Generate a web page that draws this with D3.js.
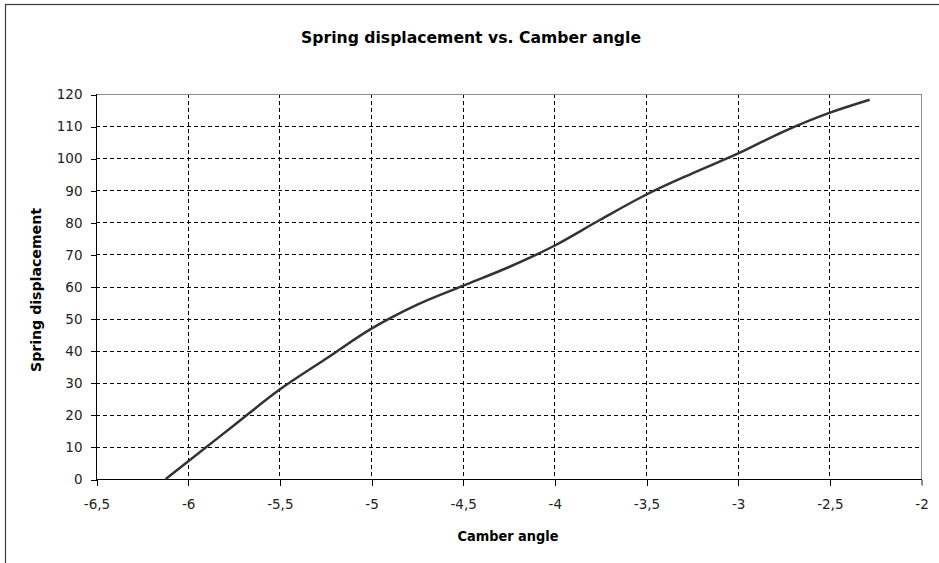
<!DOCTYPE html>
<html>
<head>
<meta charset="utf-8">
<script src="https://cdn.jsdelivr.net/npm/d3@7"></script>
<style>
  html, body { margin: 0; padding: 0; background: #fff; }
  svg { display: block; }
</style>
</head>
<body>
<svg id="chart" width="939" height="563"></svg>
<script>
// Camber angle (deg) vs spring displacement (mm)
const camber = [-6.12, -6.0, -5.75, -5.5, -5.25, -5.0, -4.75, -4.5, -4.25, -4.0, -3.75, -3.5, -3.25, -3.0, -2.75, -2.5, -2.28];
const springDisp = [0, 5.4, 16.6, 27.8, 37.3, 46.8, 54.3, 60.2, 66.0, 72.7, 80.8, 88.6, 95.2, 101.4, 108.3, 114.1, 118.2];

const xTicks = [-6.5, -6, -5.5, -5, -4.5, -4, -3.5, -3, -2.5, -2];
const yTicks = [0, 10, 20, 30, 40, 50, 60, 70, 80, 90, 100, 110, 120];

const titleText = "Spring displacement vs. Camber angle";
const xTitle = "Camber angle";
const yTitle = "Spring displacement";

(function () {
  const svg = d3.select("#chart");
  const pLeft = 96, pRight = 921, pTop = 94, pBottom = 479;

  const x = d3.scaleLinear().domain([-6.5, -2]).range([pLeft, pRight]);
  const y = d3.scaleLinear().domain([0, 120]).range([pBottom, pTop]);
  const px = v => Math.round(v) + 0.5;
  const fmt = v => String(v).replace(".", ",");

  // outer chart frame
  svg.append("rect")
    .attr("x", 5.5).attr("y", 4.5)
    .attr("width", 1200).attr("height", 1200)
    .attr("fill", "none").attr("stroke", "#3a3a3a").attr("stroke-width", 1.2);

  // title
  svg.append("text")
    .attr("x", 471).attr("y", 43)
    .attr("text-anchor", "middle")
    .attr("font-family", "DejaVu Sans, Verdana, sans-serif")
    .attr("font-weight", "bold")
    .attr("font-size", 15)
    .attr("textLength", 340).attr("lengthAdjust", "spacingAndGlyphs")
    .attr("fill", "#000")
    .text(titleText);

  // grid
  const grid = svg.append("g").attr("stroke", "#000").attr("stroke-width", 1)
    .attr("stroke-dasharray", "4,3").attr("shape-rendering", "crispEdges");
  grid.selectAll("line.v").data(xTicks.filter(d => d > -6.5 && d < -2)).enter()
    .append("line").attr("class", "v")
    .attr("x1", d => px(x(d))).attr("x2", d => px(x(d)))
    .attr("y1", pTop).attr("y2", pBottom);
  grid.selectAll("line.h").data(yTicks.filter(d => d > 0 && d < 120)).enter()
    .append("line").attr("class", "h")
    .attr("x1", pLeft).attr("x2", pRight)
    .attr("y1", d => px(y(d))).attr("y2", d => px(y(d)));

  // plot border (top/right grey)
  const border = svg.append("g").attr("stroke", "#8c8c8c").attr("stroke-width", 1).attr("shape-rendering", "crispEdges");
  border.append("line").attr("x1", pLeft).attr("x2", px(pRight)).attr("y1", px(pTop)).attr("y2", px(pTop));
  border.append("line").attr("x1", px(pRight)).attr("x2", px(pRight)).attr("y1", px(pTop)).attr("y2", pBottom + 6);

  // axes
  const axisFont = "DejaVu Sans, Verdana, sans-serif";
  const xAxis = svg.append("g")
    .attr("transform", `translate(0.5,${px(pBottom)})`)
    .call(d3.axisBottom(x).tickValues(xTicks).tickFormat(fmt).tickSize(6).tickPadding(14));
  const yAxis = svg.append("g")
    .attr("transform", `translate(${px(pLeft)},0.5)`)
    .call(d3.axisLeft(y).tickValues(yTicks).tickFormat(d => d).tickSize(6).tickPadding(8));
  [xAxis, yAxis].forEach(g => {
    g.select(".domain").attr("stroke", "#000").attr("shape-rendering", "crispEdges");
    g.selectAll(".tick line").attr("stroke", "#000").attr("shape-rendering", "crispEdges");
    g.selectAll("text").attr("font-family", axisFont).attr("font-size", 13.5).attr("fill", "#222");
  });
  xAxis.select(".domain").attr("d", `M${pLeft - 0.5},0H${pRight}`);
  yAxis.select(".domain").attr("d", `M0,${pBottom}V${pTop - 0.5}`);
  xAxis.selectAll(".tick").filter(d => d === -2).select("line").attr("stroke", "#8c8c8c");

  // axis titles
  svg.append("text")
    .attr("x", 508).attr("y", 541)
    .attr("text-anchor", "middle")
    .attr("font-family", axisFont).attr("font-weight", "bold").attr("font-size", 14)
    .attr("textLength", 101).attr("lengthAdjust", "spacingAndGlyphs")
    .text(xTitle);
  svg.append("text")
    .attr("transform", "translate(41,290) rotate(-90)")
    .attr("text-anchor", "middle")
    .attr("font-family", axisFont).attr("font-weight", "bold").attr("font-size", 14)
    .attr("textLength", 164).attr("lengthAdjust", "spacingAndGlyphs")
    .text(yTitle);

  // data line
  const pts = camber.map((c, i) => [c, springDisp[i]]);
  svg.append("path")
    .datum(pts)
    .attr("fill", "none")
    .attr("stroke", "#333")
    .attr("stroke-width", 2.5)
    .attr("stroke-linejoin", "round")
    .attr("d", d3.line().x(d => x(d[0])).y(d => y(d[1])).curve(d3.curveMonotoneX));
})();
</script>
</body>
</html>
